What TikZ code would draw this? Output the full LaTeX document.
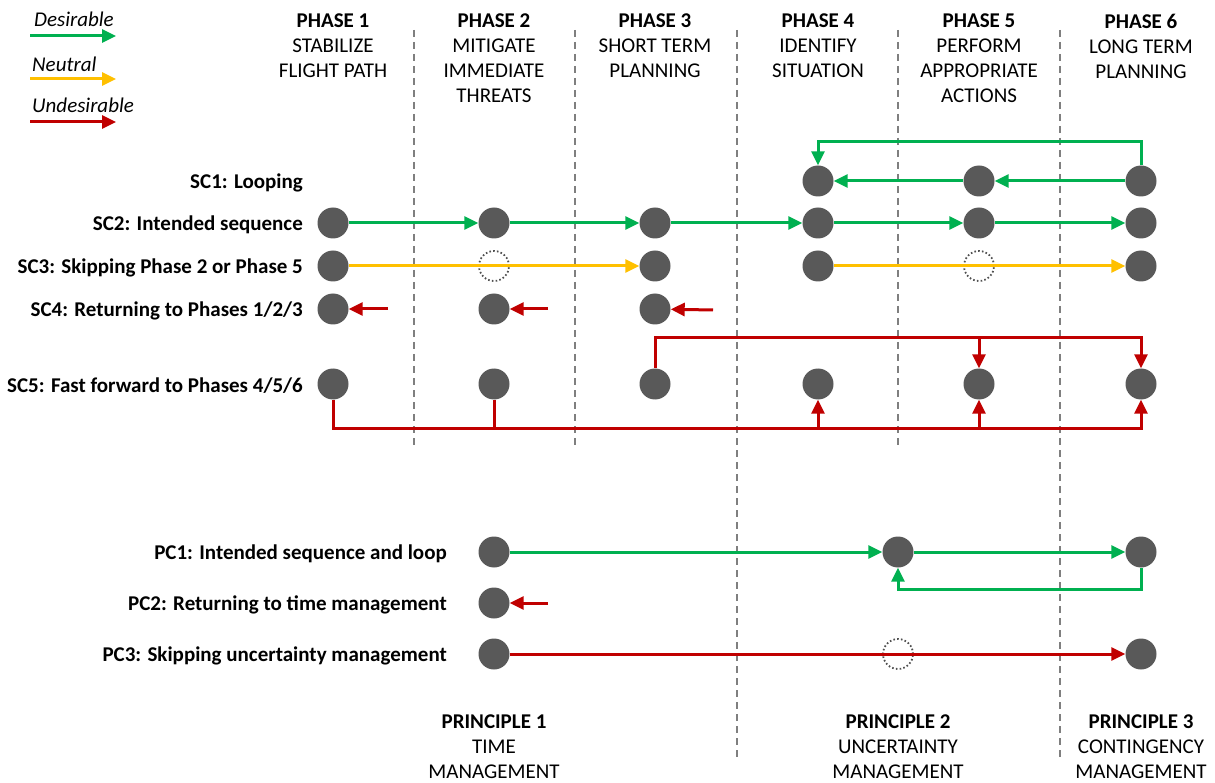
\documentclass[tikz,border=0pt]{standalone}
\usepackage{fontspec}
\setmainfont{Carlito}
\usetikzlibrary{arrows.meta}
\definecolor{cgreen}{HTML}{00B050}
\definecolor{cyellow}{HTML}{FFC000}
\definecolor{cred}{HTML}{C00000}
\definecolor{cdot}{HTML}{595959}
\definecolor{cgrid}{HTML}{7F7F7F}
\tikzset{
  dot/.style={circle, fill=cdot, minimum size=31pt, inner sep=0pt},
  skipped/.style={circle, draw=cdot!90!black, line width=1.8pt, dash pattern=on 1.6pt off 2.2pt, minimum size=30pt, inner sep=0pt},
  tip/.style={-{Triangle[length=14pt,width=13pt]}},
  gline/.style={draw=cgreen, line width=3pt},
  yline/.style={draw=cyellow, line width=3pt},
  rline/.style={draw=cred, line width=3pt},
  grid/.style={draw=cgrid, line width=2pt, dash pattern=on 7pt off 5pt},
  hdr/.style={align=center, anchor=north, inner sep=0pt, font=\fontsize{21}{25}\selectfont},
  rowlabel/.style={anchor=base east, inner sep=0pt, font=\fontsize{21}{25}\selectfont\bfseries},
  legend/.style={anchor=base west, inner sep=0pt, font=\fontsize{21}{25}\selectfont\itshape},
}
\begin{document}
\begin{tikzpicture}[x=1pt,y=-1pt]
\useasboundingbox (0,0) rectangle (1215,783);

% phase separators
\foreach \gx/\gy in {414/448, 575/448, 737/760, 898/448, 1060/760}
  \draw[grid] (\gx,30) -- (\gx,\gy);

% legend
\coordinate (lg1a) at (30,36);  \coordinate (lg1b) at (116,36);
\coordinate (lg2a) at (30,79);  \coordinate (lg2b) at (116,79);
\coordinate (lg3a) at (30,122); \coordinate (lg3b) at (116,122);
\draw[gline,tip] (lg1a) -- (lg1b);
\draw[yline,tip] (lg2a) -- (lg2b);
\draw[rline,tip] (lg3a) -- (lg3b);
\node[legend] (lgt1) at (34,27) {Desirable};
\node[legend] (lgt2) at (32,72) {Neutral};
\node[legend] (lgt3) at (32,113) {Undesirable};

% phase headers
\node[hdr] (ph1) at (333,14) {\textbf{PHASE 1}\\STABILIZE\\FLIGHT PATH};
\node[hdr] (ph2) at (494,14) {\textbf{PHASE 2}\\MITIGATE\\IMMEDIATE\\THREATS};
\node[hdr] (ph3) at (655,14) {\textbf{PHASE 3}\\SHORT TERM\\PLANNING};
\node[hdr] (ph4) at (818,14) {\textbf{PHASE 4}\\IDENTIFY\\SITUATION};
\node[hdr] (ph5) at (979,14) {\textbf{PHASE 5}\\PERFORM\\APPROPRIATE\\ACTIONS};
\node[hdr] (ph6) at (1141,14) {\textbf{PHASE 6}\\LONG TERM\\PLANNING};

% principle footers
\node[hdr] (pr1) at (494,715) {\textbf{PRINCIPLE 1}\\TIME\\MANAGEMENT};
\node[hdr] (pr2) at (898,715) {\textbf{PRINCIPLE 2}\\UNCERTAINTY\\MANAGEMENT};
\node[hdr] (pr3) at (1141,715) {\textbf{PRINCIPLE 3}\\CONTINGENCY\\MANAGEMENT};

% row labels
\node[rowlabel] (l1) at (303,189) {SC1: Looping};
\node[rowlabel] (l2) at (303,231) {SC2: Intended sequence};
\node[rowlabel] (l3) at (303,274) {SC3: Skipping Phase 2 or Phase 5};
\node[rowlabel] (l4) at (303,317) {SC4: Returning to Phases 1/2/3};
\node[rowlabel] (l5) at (303,392) {SC5: Fast forward to Phases 4/5/6};
\node[rowlabel] (l6) at (447,559) {PC1: Intended sequence and loop};
\node[rowlabel] (l7) at (447,610) {PC2: Returning to time management};
\node[rowlabel] (l8) at (447,661) {PC3: Skipping uncertainty management};

% SC1
\node[dot] (s1d) at (818,181) {};
\node[dot] (s1e) at (979,181) {};
\node[dot] (s1f) at (1141,181) {};
\coordinate (s1top) at (818,142);
\draw[gline,tip] (s1f) -- (s1e);
\draw[gline,tip] (s1e) -- (s1d);
\draw[gline,tip] (s1f.north) |- (s1top) -- (s1d.north);

% SC2
\node[dot] (s2a) at (333,223) {};
\node[dot] (s2b) at (494,223) {};
\node[dot] (s2c) at (655,223) {};
\node[dot] (s2d) at (818,223) {};
\node[dot] (s2e) at (979,223) {};
\node[dot] (s2f) at (1141,223) {};
\draw[gline,tip] (s2a) -- (s2b);
\draw[gline,tip] (s2b) -- (s2c);
\draw[gline,tip] (s2c) -- (s2d);
\draw[gline,tip] (s2d) -- (s2e);
\draw[gline,tip] (s2e) -- (s2f);

% SC3
\node[dot] (s3a) at (333,266) {};
\node[skipped] (s3b) at (494,266) {};
\node[dot] (s3c) at (655,266) {};
\node[dot] (s3d) at (818,266) {};
\node[skipped] (s3e) at (979,266) {};
\node[dot] (s3f) at (1141,266) {};
\draw[yline,tip] (s3a) -- (s3c);
\draw[yline,tip] (s3d) -- (s3f);

% SC4
\node[dot] (s4a) at (333,309) {};
\node[dot] (s4b) at (494,309) {};
\node[dot] (s4c) at (655,309) {};
\coordinate (r4a) at (388,309);
\coordinate (r4b) at (548,309);
\coordinate (r4c) at (713,310);
\draw[rline,tip] (r4a) -- (s4a);
\draw[rline,tip] (r4b) -- (s4b);
\draw[rline,tip] (r4c) -- (s4c);

% SC5
\node[dot] (s5a) at (333,384) {};
\node[dot] (s5b) at (494,384) {};
\node[dot] (s5c) at (655,384) {};
\node[dot] (s5d) at (818,384) {};
\node[dot] (s5e) at (979,384) {};
\node[dot] (s5f) at (1141,384) {};
\coordinate (busT) at (1141,338);
\coordinate (busB) at (1141,428);
\draw[rline,tip] (s5c.north) |- (busT) -- (s5f.north);
\draw[rline,tip] (s5e |- busT) -- (s5e.north);
\draw[rline,tip] (s5a.south) |- (busB) -- (s5f.south);
\draw[rline] (s5b.south) -- (s5b |- busB);
\draw[rline,tip] (s5d |- busB) -- (s5d.south);
\draw[rline,tip] (s5e |- busB) -- (s5e.south);

% PC1
\node[dot] (p1a) at (494,552) {};
\node[dot] (p1b) at (898,552) {};
\node[dot] (p1c) at (1141,552) {};
\coordinate (p1loop) at (898,589);
\draw[gline,tip] (p1a) -- (p1b);
\draw[gline,tip] (p1b) -- (p1c);
\draw[gline,tip] (p1c.south) |- (p1loop) -- (p1b.south);

% PC2
\node[dot] (p2a) at (494,603) {};
\coordinate (r2a) at (548,603);
\draw[rline,tip] (r2a) -- (p2a);

% PC3
\node[dot] (p3a) at (494,654) {};
\node[skipped] (p3b) at (898,654) {};
\node[dot] (p3c) at (1141,654) {};
\draw[rline,tip] (p3a) -- (p3c);
\end{tikzpicture}
\end{document}
